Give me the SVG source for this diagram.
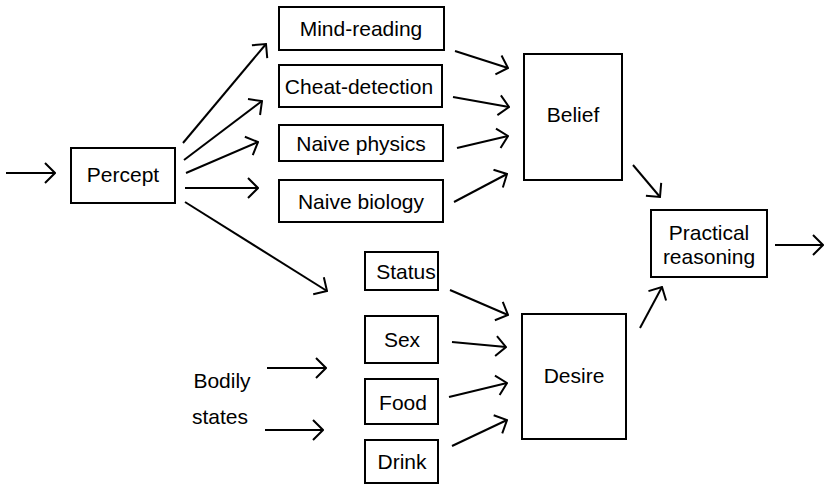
<svg xmlns="http://www.w3.org/2000/svg" width="828" height="484" viewBox="0 0 828 484">
<defs>
<marker id="arr" viewBox="0 0 12 22" refX="11" refY="11" markerWidth="12" markerHeight="22" markerUnits="userSpaceOnUse" orient="auto">
<path d="M1,1 L11,11 L1,21" fill="none" stroke="#000" stroke-width="2"/>
</marker>
<style>
rect{fill:#fff;stroke:#000;stroke-width:2}
text{font-family:"Liberation Sans",Arial,sans-serif;font-size:21px;fill:#000;text-anchor:middle}
.c line{stroke:#000;stroke-width:2;marker-end:url(#arr)}
</style>
</defs>
<rect x="0" y="0" width="828" height="484" style="stroke:none"/>
<g id="percept"><rect x="71" y="148" width="104" height="55"/><text x="123" y="182">Percept</text></g>
<g id="mind-reading"><rect x="279" y="7" width="165" height="43"/><text x="361" y="36">Mind-reading</text></g>
<g id="cheat-detection"><rect x="279" y="65" width="163" height="42"/><text x="359" y="94">Cheat-detection</text></g>
<g id="naive-physics"><rect x="279" y="125" width="164" height="36"/><text x="361" y="151">Naive physics</text></g>
<g id="naive-biology"><rect x="279" y="180" width="164" height="42"/><text x="361" y="209">Naive biology</text></g>
<g id="belief"><rect x="524" y="54" width="98" height="126"/><text x="573" y="122">Belief</text></g>
<g id="practical-reasoning"><rect x="651" y="210" width="116" height="67"/><text x="709" y="240">Practical</text><text x="709" y="264">reasoning</text></g>
<g id="status"><rect x="365" y="252" width="73" height="38"/><text x="406" y="279">Status</text></g>
<g id="sex"><rect x="365" y="316" width="73" height="47"/><text x="402" y="347">Sex</text></g>
<g id="food"><rect x="365" y="379" width="73" height="45"/><text x="403" y="410">Food</text></g>
<g id="drink"><rect x="365" y="440" width="73" height="43"/><text x="402" y="469">Drink</text></g>
<g id="desire"><rect x="522" y="314" width="104" height="125"/><text x="574" y="383">Desire</text></g>
<g id="bodily-states"><text x="222" y="388">Bodily</text><text x="220" y="424">states</text></g>
<g class="c" id="connectors">
<line x1="6" y1="173" x2="55" y2="173"/>
<line x1="183" y1="143" x2="266" y2="44"/>
<line x1="184" y1="160" x2="262" y2="101"/>
<line x1="186" y1="173" x2="258" y2="142"/>
<line x1="185" y1="188" x2="258" y2="188"/>
<line x1="185" y1="202" x2="327" y2="291"/>
<line x1="455" y1="51" x2="508" y2="68"/>
<line x1="453" y1="97" x2="509" y2="107"/>
<line x1="457" y1="148" x2="508" y2="136"/>
<line x1="454" y1="202" x2="507" y2="174"/>
<line x1="633" y1="165" x2="660" y2="197"/>
<line x1="640" y1="328" x2="662" y2="287"/>
<line x1="775" y1="245" x2="823" y2="245"/>
<line x1="450" y1="290" x2="508" y2="315"/>
<line x1="452" y1="342" x2="506" y2="347"/>
<line x1="449" y1="397" x2="507" y2="383"/>
<line x1="452" y1="446" x2="507" y2="420"/>
<line x1="267" y1="368" x2="326" y2="368"/>
<line x1="265" y1="430" x2="323" y2="430"/>
</g>
</svg>
